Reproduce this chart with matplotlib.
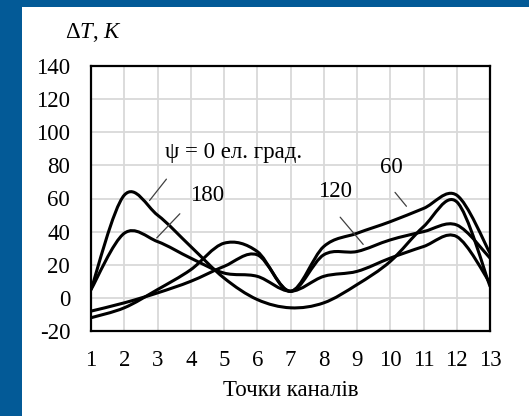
import matplotlib
matplotlib.use("Agg")
import matplotlib.pyplot as plt
from matplotlib.path import Path
from matplotlib.patches import PathPatch, Rectangle

plt.rcParams['font.family'] = ['Liberation Serif', 'DejaVu Serif']
plt.rcParams['mathtext.fontset'] = 'custom'
plt.rcParams['mathtext.rm'] = 'Liberation Serif'
plt.rcParams['mathtext.it'] = 'Liberation Serif:italic'

# ---- data ----
points = [1, 2, 3, 4, 5, 6, 7, 8, 9, 10, 11, 12, 13]
psi_0   = [5, 62, 50, 31, 12, -1, -6, -3, 8, 22, 43, 58, 7]
psi_60  = [-12, -6, 5, 17, 33, 28, 4, 31, 39, 46, 54, 62, 27]
psi_120 = [-8, -3, 3, 10, 19, 26, 4, 26, 28, 35, 40, 44, 24]
psi_180 = [5, 39, 34, 24, 15, 13, 4, 13, 16, 24, 31, 37, 9]
series = [psi_0, psi_60, psi_120, psi_180]
yticks = [-20, 0, 20, 40, 60, 80, 100, 120, 140]
xlabel = 'Точки каналів'
ylabel = r'$\Delta T$, $K$'
labels = ['ψ = 0 ел. град.', '180', '120', '60']

BLUE = '#035A97'
FS = 16.5

fig = plt.figure(figsize=(5.29, 4.16), dpi=100)
fig.patch.set_facecolor(BLUE)
fig.patches.append(Rectangle((22 / 529, 0), 1, (416 - 7) / 416, transform=fig.transFigure,
                             facecolor='white', edgecolor='none', zorder=-5))

ax = fig.add_axes([91 / 529, (416 - 331) / 416, (490 - 91) / 529, (331 - 66) / 416])
ax.set_zorder(2)
ax.set_facecolor('white')
ax.set_xlim(1, 13)
ax.set_ylim(-20, 140)
ax.set_xticks(points)
ax.set_yticks(yticks)
ax.set_xticklabels([str(p) for p in points])
ax.set_yticklabels([str(t) for t in yticks])
ax.grid(True, color='#d9d9d9', linewidth=1.3)
ax.set_axisbelow(True)
ax.tick_params(length=0, labelsize=FS, colors='black')
ax.tick_params(axis='y', pad=15)
ax.tick_params(axis='x', pad=14)
for s in ax.spines.values():
    s.set_linewidth(1.6)
    s.set_color('black')


def smooth_path(xs, ys):
    # Excel-like smoothed line as cubic Bezier segments
    n = len(xs)
    verts = [(xs[0], ys[0])]
    codes = [Path.MOVETO]
    for i in range(n - 1):
        x0, y0 = (xs[i - 1], ys[i - 1]) if i > 0 else (xs[i], ys[i])
        x3, y3 = (xs[i + 2], ys[i + 2]) if i + 2 < n else (xs[i + 1], ys[i + 1])
        c1 = (xs[i] + (xs[i + 1] - x0) / 6, ys[i] + (ys[i + 1] - y0) / 6)
        c2 = (xs[i + 1] - (x3 - xs[i]) / 6, ys[i + 1] - (y3 - ys[i]) / 6)
        verts += [c1, c2, (xs[i + 1], ys[i + 1])]
        codes += [Path.CURVE4] * 3
    return Path(verts, codes)


for ys in series:
    ax.add_patch(PathPatch(smooth_path(points, ys), facecolor='none',
                           edgecolor='black', linewidth=2.2, zorder=3,
                           capstyle='round', joinstyle='round'))

# labels with leader lines
lab_pos = [(3.23, 87.5), (3.98, 62), (7.83, 64), (9.69, 79)]
lead = [((3.32, 73), (2.71, 57.5)), ((3.73, 52), (2.92, 35)),
        ((8.44, 50), (9.24, 31)), ((10.09, 65), (10.54, 54))]
for t, (lx, ly), (a, b) in zip(labels, lab_pos, lead):
    ax.text(lx, ly, t, fontsize=FS, ha='left', va='center', zorder=4)
    ax.annotate('', xy=b, xytext=a,
                arrowprops=dict(arrowstyle='-', color='#404040', lw=0.9), zorder=4)

ax.set_xlabel(xlabel, fontsize=FS, labelpad=6)
fig.text(65 / 529, 1 - 32 / 416, ylabel, fontsize=16.5, ha='left', va='center')

fig.savefig('out.png', dpi=100, facecolor=fig.get_facecolor())
